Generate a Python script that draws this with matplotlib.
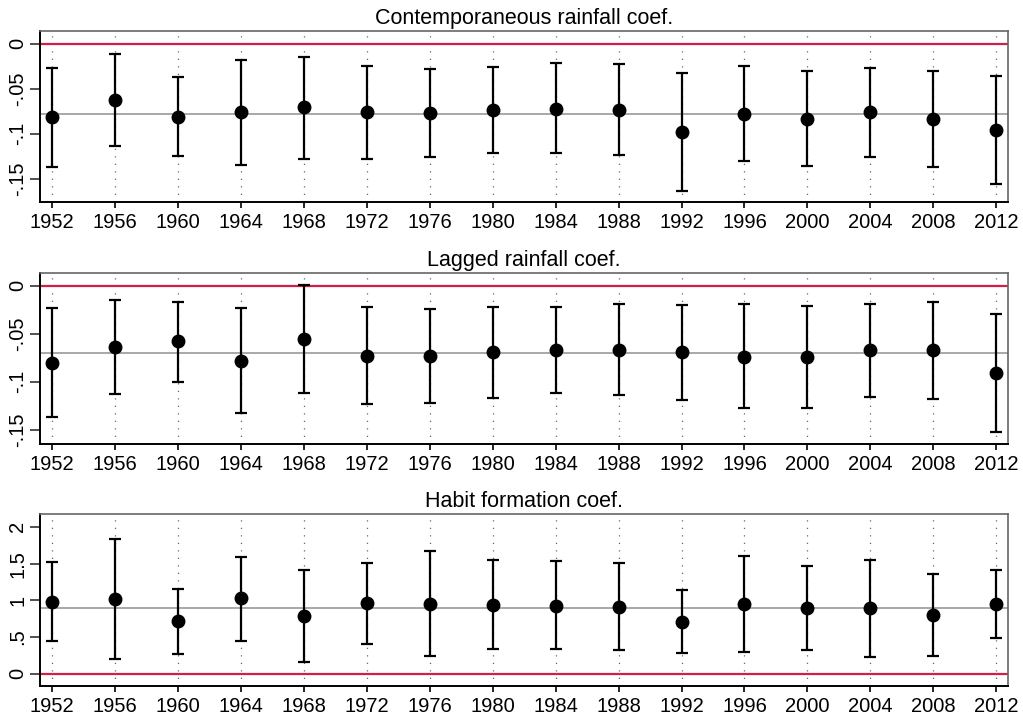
import matplotlib
matplotlib.use("Agg")
import matplotlib.pyplot as plt

plt.rcParams['font.family'] = ['Liberation Sans', 'DejaVu Sans']

years = [1952, 1956, 1960, 1964, 1968, 1972, 1976, 1980,
         1984, 1988, 1992, 1996, 2000, 2004, 2008, 2012]

# Panel 1: Contemporaneous rainfall coef.
contemp_est = [-0.082, -0.063, -0.082, -0.0765, -0.071, -0.0765, -0.077, -0.074,
               -0.0725, -0.0735, -0.098, -0.078, -0.0835, -0.0765, -0.084, -0.0965]
contemp_hi = [-0.027, -0.012, -0.037, -0.018, -0.015, -0.025, -0.028, -0.026,
              -0.022, -0.023, -0.033, -0.025, -0.030, -0.027, -0.030, -0.0365]
contemp_lo = [-0.137, -0.114, -0.125, -0.135, -0.128, -0.128, -0.126, -0.122,
              -0.122, -0.1235, -0.1635, -0.130, -0.136, -0.126, -0.1375, -0.156]
contemp_mean = -0.0787

# Panel 2: Lagged rainfall coef.
lagged_est = [-0.0805, -0.064, -0.058, -0.078, -0.056, -0.073, -0.073, -0.0695,
              -0.067, -0.067, -0.0695, -0.074, -0.0745, -0.067, -0.067, -0.091]
lagged_hi = [-0.0236, -0.015, -0.0167, -0.023, 0.001, -0.0225, -0.024, -0.022,
             -0.022, -0.019, -0.020, -0.019, -0.021, -0.019, -0.0167, -0.0295]
lagged_lo = [-0.137, -0.113, -0.100, -0.133, -0.112, -0.1236, -0.1226, -0.1167,
             -0.112, -0.114, -0.119, -0.128, -0.128, -0.116, -0.118, -0.152]
lagged_mean = -0.0701

# Panel 3: Habit formation coef.
habit_est = [0.98, 1.018, 0.714, 1.027, 0.782, 0.959, 0.955, 0.94,
             0.926, 0.913, 0.704, 0.954, 0.899, 0.891, 0.804, 0.95]
habit_hi = [1.518, 1.839, 1.158, 1.594, 1.409, 1.508, 1.667, 1.549,
            1.531, 1.508, 1.136, 1.608, 1.471, 1.549, 1.362, 1.409]
habit_lo = [0.45, 0.196, 0.272, 0.45, 0.159, 0.409, 0.245, 0.336,
            0.332, 0.318, 0.282, 0.30, 0.327, 0.223, 0.245, 0.486]
habit_mean = 0.895

titles = ["Contemporaneous rainfall coef.", "Lagged rainfall coef.", "Habit formation coef."]
panels = [
    (contemp_est, contemp_lo, contemp_hi, contemp_mean, (-0.176, 0.0139),
     [0, -0.05, -0.1, -0.15], ["0", "-.05", "-.1", "-.15"]),
    (lagged_est, lagged_lo, lagged_hi, lagged_mean, (-0.165, 0.0135),
     [0, -0.05, -0.1, -0.15], ["0", "-.05", "-.1", "-.15"]),
    (habit_est, habit_lo, habit_hi, habit_mean, (-0.168, 2.18),
     [0, 0.5, 1, 1.5, 2], ["0", ".5", "1", "1.5", "2"]),
]

fig = plt.figure(figsize=(10.23, 7.19), dpi=100)
boxes = [(0.0388, 0.7191, 0.9465, 0.2378),
         (0.0388, 0.3825, 0.9465, 0.2382),
         (0.0388, 0.0459, 0.9465, 0.2396)]

red = '#d21f47'
for (est, lo, hi, mean, ylim, yt, ytl), box, title in zip(panels, boxes, titles):
    ax = fig.add_axes(box)
    for yr in years:
        ax.axvline(yr, color='#666666', lw=0.9, ls=(0, (1, 5)), zorder=0)
    ax.axhline(0, color=red, lw=1.6, zorder=1)
    ax.axhline(mean, color='#a8a8a8', lw=1.4, zorder=1)
    yerr = [[e - l for e, l in zip(est, lo)], [h - e for e, h in zip(est, hi)]]
    ax.errorbar(years, est, yerr=yerr, fmt='o', color='black', ms=9,
                elinewidth=1.6, capsize=4.5, capthick=1.6, zorder=3)
    ax.set_xlim(1951.2, 2012.75)
    ax.set_ylim(*ylim)
    ax.set_xticks(years)
    ax.set_xticklabels([str(y) for y in years], fontsize=14.5)
    ax.set_yticks(yt)
    ax.set_yticklabels(ytl, fontsize=14.5, rotation=90, va='center')
    ax.tick_params(axis='x', length=4, width=1.2, color='black', pad=4)
    ax.tick_params(axis='y', length=7, width=1.2, color='#333333', pad=2)
    for side in ['left', 'bottom']:
        ax.spines[side].set_color('black')
        ax.spines[side].set_linewidth(1.4)
    for side in ['top', 'right']:
        ax.spines[side].set_color('#666666')
        ax.spines[side].set_linewidth(1.2)
    ax.set_title(title, fontsize=15.5, pad=5)

fig.savefig('out.png', dpi=100)
